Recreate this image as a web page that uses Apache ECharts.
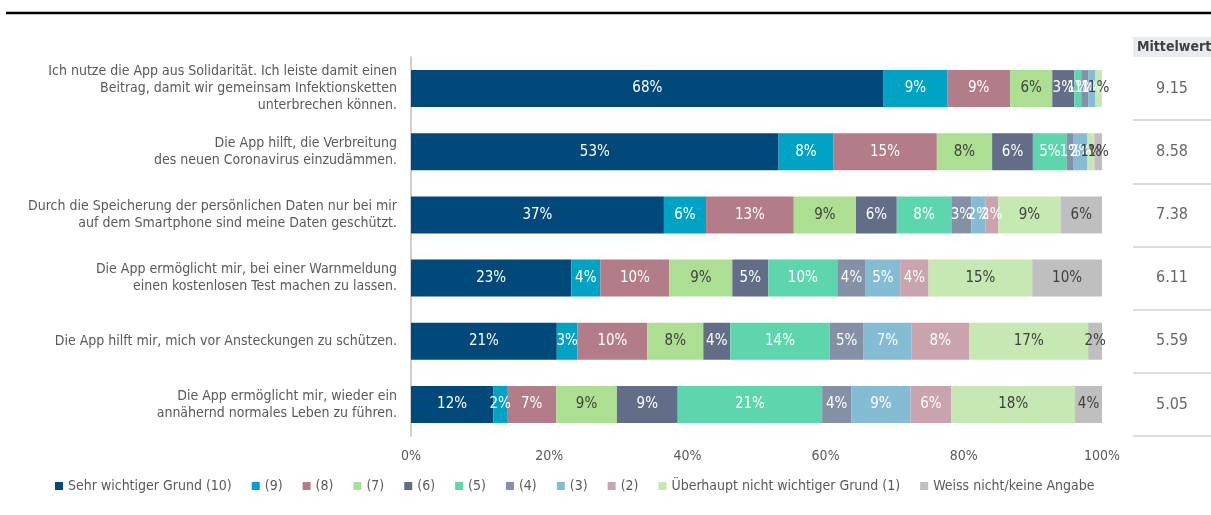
<!DOCTYPE html>
<html>
<head>
<meta charset="utf-8">
<script src="https://cdn.jsdelivr.net/npm/echarts@6/dist/echarts.min.js"></script>
<style>
  html, body { margin: 0; padding: 0; background: #fff; }
  #main { width: 1211px; height: 515px; }
</style>
</head>
<body>
<div id="main"></div>
<script>
// Aussagen (von oben nach unten)
var categories = [
  "Ich nutze die App aus Solidarität. Ich leiste damit einen\nBeitrag, damit wir gemeinsam Infektionsketten\nunterbrechen können.",
  "Die App hilft, die Verbreitung\ndes neuen Coronavirus einzudämmen.",
  "Durch die Speicherung der persönlichen Daten nur bei mir\nauf dem Smartphone sind meine Daten geschützt.",
  "Die App ermöglicht mir, bei einer Warnmeldung\neinen kostenlosen Test machen zu lassen.",
  "Die App hilft mir, mich vor Ansteckungen zu schützen.",
  "Die App ermöglicht mir, wieder ein\nannähernd normales Leben zu führen."
];

var seriesNames = ["Sehr wichtiger Grund (10)", "(9)", "(8)", "(7)", "(6)", "(5)", "(4)", "(3)", "(2)",
  "Überhaupt nicht wichtiger Grund (1)", "Weiss nicht/keine Angabe"];

// Anteile in % je Antwortstufe, je Aussage in der Reihenfolge von categories
var s10 = [68.4, 53.2, 36.6, 23.2, 21.1, 11.9];
var s9 = [9.2, 7.9, 6.1, 4.2, 3.0, 2.0];
var s8 = [9.1, 15.0, 12.7, 10.0, 10.1, 7.1];
var s7 = [6.1, 8.0, 9.0, 9.1, 8.1, 8.8];
var s6 = [3.2, 5.9, 5.9, 5.2, 3.9, 8.8];
var s5 = [1.0, 4.9, 7.9, 10.0, 14.4, 20.9];
var s4 = [1.0, 1.0, 2.9, 4.1, 4.9, 4.2];
var s3 = [1.0, 2.0, 2.0, 5.0, 6.9, 8.6];
var s2 = [0, 0, 1.9, 4.1, 8.4, 5.9];
var s1 = [1.0, 1.0, 9.0, 15.0, 17.2, 17.9];
var sNA = [0, 1.1, 6.0, 10.1, 2.0, 3.9];

var means = ["9.15", "8.58", "7.38", "6.11", "5.59", "5.05"];
var xTicks = ["0%", "20%", "40%", "60%", "80%", "100%"];

var colors = ["#00497a", "#00a3c4", "#b27c89", "#addf92", "#626d87", "#5dd5ad",
  "#8390a5", "#84bdd3", "#c9a3ad", "#c6e8b2", "#bfbfbf"];
var labelColors = ["#ffffff", "#ffffff", "#ffffff", "#404040", "#ffffff", "#ffffff",
  "#ffffff", "#ffffff", "#ffffff", "#404040", "#404040"];

var FONT = 'Tahoma, "DejaVu Sans Condensed", "DejaVu Sans", sans-serif';
var allData = [s10, s9, s8, s7, s6, s5, s4, s3, s2, s1, sNA];

var series = allData.map(function (vals, i) {
  return {
    name: seriesNames[i],
    type: "bar",
    stack: "total",
    barWidth: 37,
    xAxisIndex: 0,
    yAxisIndex: 0,
    itemStyle: { color: colors[i] },
    label: {
      show: true,
      position: "inside",
      color: labelColors[i],
      fontFamily: FONT,
      fontSize: 15,
      formatter: function (p) {
        return p.value > 0 ? Math.round(p.value) + "%" : "";
      }
    },
    data: vals
  };
});

// Mittelwert-Spalte
series.push({
  type: "scatter",
  xAxisIndex: 1,
  yAxisIndex: 1,
  symbolSize: 1,
  itemStyle: { color: "rgba(0,0,0,0)" },
  label: {
    show: true,
    position: "inside",
    color: "#404040",
    fontFamily: FONT,
    fontSize: 16,
    formatter: function (p) { return means[p.dataIndex]; }
  },
  data: means.map(function (m, i) { return [0.5, i]; })
});

var chart = echarts.init(document.getElementById("main"));
chart.setOption({
  animation: false,
  textStyle: { fontFamily: FONT },
  title: {
    text: "Mittelwert",
    left: 1133,
    top: 37,
    padding: [3, 6, 3, 4],
    backgroundColor: "#e8ebef",
    textStyle: { fontFamily: FONT, fontSize: 14, fontWeight: "bold", color: "#404040" }
  },
  graphic: [{
    type: "line",
    shape: { x1: 6, y1: 13, x2: 1211, y2: 13 },
    style: { stroke: "#000", lineWidth: 2.5 }
  }],
  legend: {
    left: 50,
    top: 474,
    itemWidth: 8,
    itemHeight: 8,
    itemGap: 20,
    icon: "rect",
    textStyle: { fontFamily: FONT, fontSize: 14, color: "#595959" },
    data: seriesNames
  },
  grid: [
    { left: 411, right: 109, top: 57, bottom: 79 },
    { left: 1133, right: 0, top: 57, bottom: 79 }
  ],
  xAxis: [{
    type: "value",
    gridIndex: 0,
    min: 0,
    max: 100,
    interval: 20,
    axisLine: { show: false },
    axisTick: { show: false },
    splitLine: { show: false },
    axisLabel: {
      color: "#595959",
      fontSize: 14,
      margin: 13,
      fontFamily: FONT,
      formatter: function (v) { return xTicks[v / 20]; }
    }
  }, {
    type: "value",
    gridIndex: 1,
    min: 0,
    max: 1,
    show: false
  }],
  yAxis: [{
    type: "category",
    gridIndex: 0,
    inverse: true,
    data: categories,
    axisLine: { show: true, lineStyle: { color: "#bfbfbf", width: 1.5 } },
    axisTick: { show: false },
    axisLabel: {
      color: "#595959",
      fontSize: 14,
      lineHeight: 17,
      margin: 14,
      align: "right",
      fontFamily: FONT
    }
  }, {
    type: "category",
    gridIndex: 1,
    inverse: true,
    data: means,
    axisLine: { show: false },
    axisTick: { show: false },
    axisLabel: { show: false },
    splitLine: { show: true, showMinLine: false, lineStyle: { color: "#cfcfdb", width: 1.5 } }
  }],
  series: series
});
</script>
</body>
</html>
